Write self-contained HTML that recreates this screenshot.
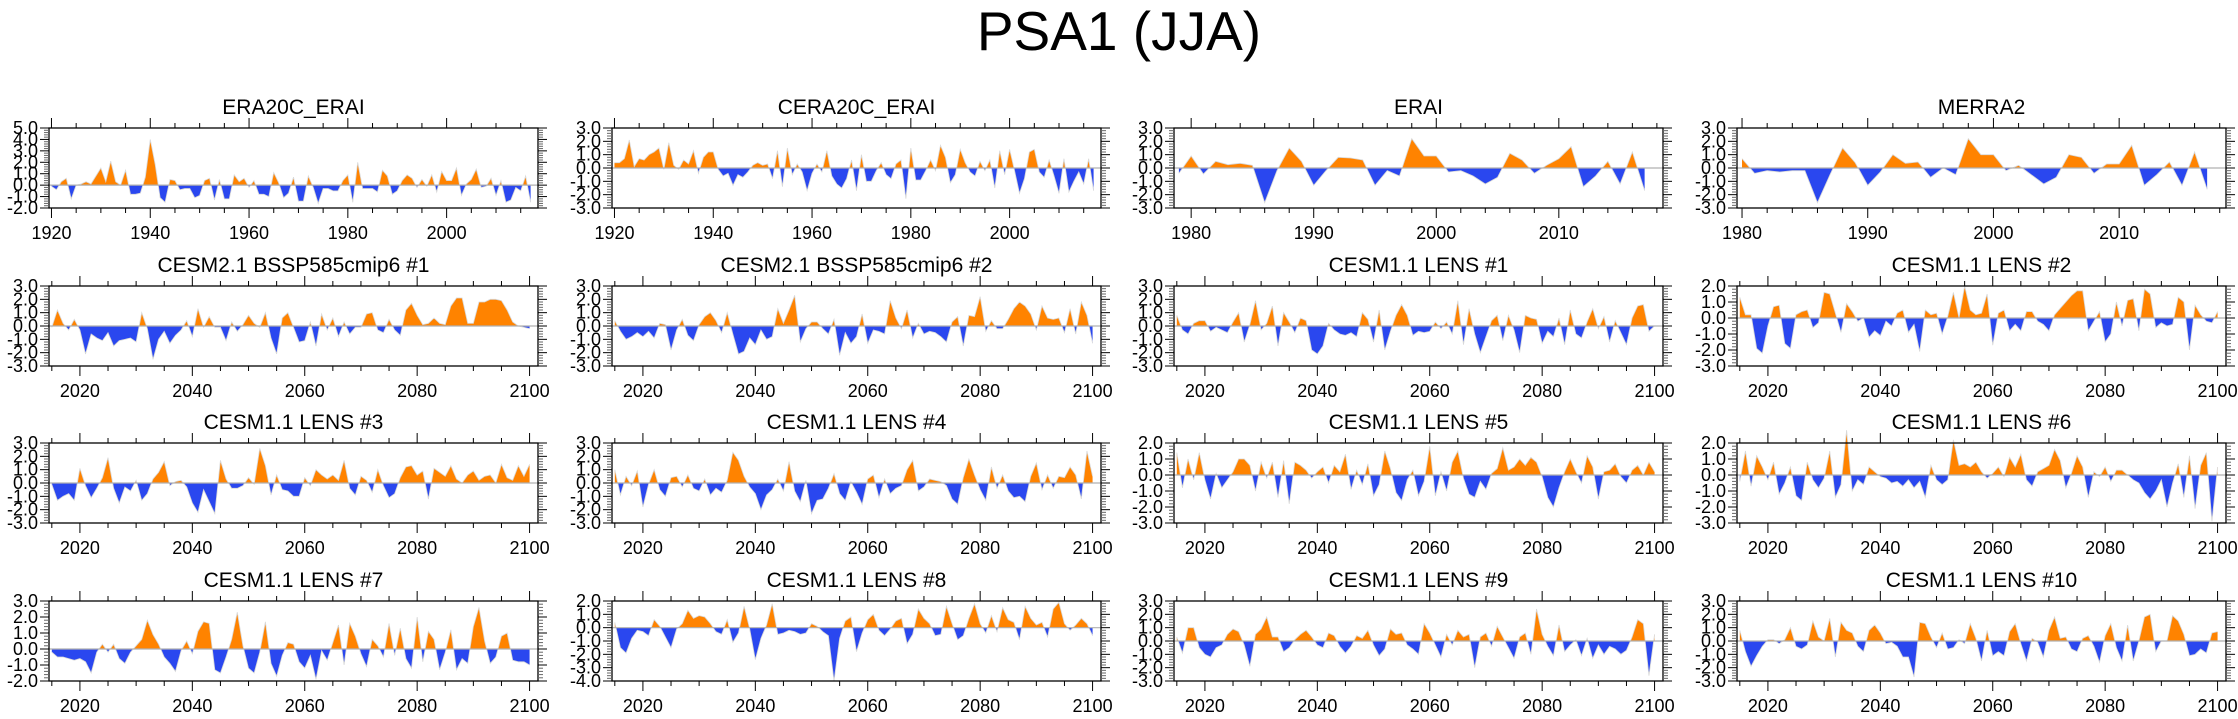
<!DOCTYPE html>
<html><head><meta charset="utf-8">
<style>
html,body{margin:0;padding:0;background:#fff;}
svg{display:block;font-family:"Liberation Sans",sans-serif;}
</style></head>
<body>
<svg id="fig" width="2238" height="719" viewBox="0 0 2238 719" xmlns="http://www.w3.org/2000/svg">
<text x="1119" y="50" font-size="55" text-anchor="middle">PSA1 (JJA)</text>
</svg>
<script>
const panelTitles = ["ERA20C_ERAI","CERA20C_ERAI","ERAI","MERRA2",
"CESM2.1 BSSP585cmip6 #1","CESM2.1 BSSP585cmip6 #2","CESM1.1 LENS #1","CESM1.1 LENS #2",
"CESM1.1 LENS #3","CESM1.1 LENS #4","CESM1.1 LENS #5","CESM1.1 LENS #6",
"CESM1.1 LENS #7","CESM1.1 LENS #8","CESM1.1 LENS #9","CESM1.1 LENS #10"];
const startYears = [1920,1920,1979,1980,2015,2015,2015,2015,2015,2015,2015,2015,2015,2015,2015,2015];
const xRanges = [[1919.5,2018.5],[1919.5,2018.5],[1978.6,2018.5],[1979.6,2018.5]];
const xTickSets = [[1920,1940,1960,1980,2000],[1920,1940,1960,1980,2000],[1980,1990,2000,2010],[1980,1990,2000,2010]];
const cesmTicks = [2020,2040,2060,2080,2100];
const yRanges = [[-2,5],[-3,3],[-3,3],[-3,3],[-3,3],[-3,3],[-3,3],[-3,2],[-3,3],[-3,3],[-3,2],[-3,2],[-2,3],[-4,2],[-3,3],[-3,3]];

const sERA20C = [-0.1,-0.4,0.3,0.6,-1.2,0,0.1,0.3,0.1,0.8,1.5,0.3,2.1,0.3,0,1.3,-0.8,-0.8,-0.7,0.7,4.0,1.8,-1.1,-1.5,0.5,0.4,-0.4,-0.3,-0.3,-1.1,-0.9,0.4,0.6,-1.3,0.5,-1.2,-1.2,0.9,0.3,0.6,-0.2,0.4,-0.8,-0.8,-1.0,1.1,0.2,-1.1,-0.7,0.7,-1.4,-1.4,0.8,-0.2,-1.6,-0.3,-0.3,-0.5,-0.5,0.4,0.9,-1.5,2.0,-0.3,-0.3,-0.3,-0.6,1.3,0.8,-0.8,-0.5,0.4,0.9,0.6,-0.2,0.5,-0.1,0.9,-0.6,1.2,0.4,0.4,1.5,-0.9,0.1,0.5,1.4,-0.2,-0.1,0.6,-0.9,0.4,-1.5,-1.3,-0.2,-0.5,0.8,-1.5];
const sCERA20C = [0.4,0.4,0.7,2.1,0.1,0.7,0.6,1.0,1.2,1.5,-0.1,1.9,0.2,-0.1,0.6,0.3,1.3,-0.4,0.8,1.2,1.2,-0.1,-0.6,-0.4,-1.3,-0.5,-0.7,-0.3,0.2,0.4,0.2,0.3,-0.8,1.3,-1.4,1.5,-0.5,0.3,-0.3,-1.7,-0.4,0.3,-0.3,1.3,-0.6,-1.2,-1.5,-0.8,0.6,-1.7,1.0,-1.0,-1.0,-0.2,0.4,-0.5,-0.8,0.3,0.6,-2.3,1.5,-0.9,-0.9,-0.2,0.6,-0.2,1.7,0.8,-1.1,-0.5,1.4,0.4,-0.3,-0.6,0.5,-0.2,0.6,-1.5,1.3,-0.5,1.4,-0.2,-1.9,-0.8,1.2,1.4,-0.3,-0.7,0.6,-0.6,-1.9,0.7,-1.8,-1.0,-0.3,-1.2,0.7,-1.7];
const sERAI = [-0.4,0.9,-0.45,0.5,0.25,0.35,0.2,-2.6,-0.2,1.5,0.5,-1.3,-0.2,0.8,0.75,0.6,-1.3,-0.2,-0.6,2.2,0.9,0.9,-0.3,-0.2,-0.6,-1.2,-0.7,1.1,0.6,-0.4,0.2,0.7,1.6,-1.4,-0.6,0.5,-1.2,1.2,-1.7];
const sMERRA2 = [0.7,-0.4,-0.2,-0.3,-0.2,-0.2,-2.6,-0.5,1.5,0.4,-1.3,-0.3,1.0,0.35,0.45,-0.7,0,-0.5,2.2,1.0,1.0,-0.2,0.2,-0.5,-1.2,-0.7,1.0,0.8,-0.4,0.3,0.3,1.7,-1.3,-0.5,0.45,-1.3,1.2,-1.6];
const sCESM2a = [-0.1,1.2,0.2,-0.3,0.5,-0.3,-2.1,-0.6,-0.9,-1.1,-0.5,-1.5,-1.1,-1.0,-0.9,-1.2,1.0,-0.2,-2.5,-1.0,-0.4,-1.3,-0.7,-0.3,0.4,-0.8,1.3,-0.1,0.7,-0.1,-0.1,-1.1,0.3,-0.4,0.1,0.8,0.2,-0.1,1.0,-0.9,-2.1,0.6,1.0,-0.1,-1.2,-1.1,0.3,-1.5,0.9,-0.3,0.6,-0.8,0.3,-0.6,-0.1,-0.1,0.9,1.0,-0.3,-0.5,0.5,-0.3,-0.7,1.2,1.7,0.8,0.1,0.2,0.6,0.2,0.1,1.5,2.1,2.1,0.2,0.2,1.8,1.8,2.0,2.0,1.9,1.2,0.3,0.0,-0.1,-0.2];
const sCESM2b = [0.4,-0.4,-1.0,-0.8,-0.5,-0.8,-0.4,-0.9,0.2,0.1,-1.8,-0.3,0.5,-0.7,-1.1,0.1,0.7,1.0,0.4,-0.5,1.0,-0.6,-2.1,-1.9,-0.9,-1.4,-0.3,-1.0,-0.8,1.3,0.2,1.2,2.3,-1.2,-0.2,0.3,0.3,-0.2,-0.6,0.5,-2.2,-0.5,-1.3,-0.8,0.9,-1.3,-0.3,-0.4,-0.6,1.9,0.6,-0.2,1.2,-0.9,0.2,-0.6,-0.4,-0.5,-0.8,-1.2,0.3,0.7,-1.5,0.8,0.7,2.2,-0.4,0.4,-0.2,-0.2,0.5,1.3,1.8,1.5,0.9,-0.3,1.5,0.6,0.5,0.6,-0.5,1.3,-0.6,1.8,0.8,-1.3];
const sLENS1 = [0.8,-0.3,-0.6,0.2,0.4,0.4,-0.4,-0.1,-0.3,-0.5,0.3,1.0,-1.2,0.1,1.9,-0.3,0.2,1.5,-1.5,1.0,0.3,-0.5,0.6,0.4,-1.8,-2.1,-1.5,0.2,-0.3,-0.6,-0.7,-0.5,-0.8,1.0,0.5,-1.2,1.2,-1.8,-0.4,0.8,1.6,0.8,-0.7,-0.4,-0.5,-0.4,0.3,-0.2,0.3,-0.6,1.9,-1.4,1.3,-0.6,-2.0,-0.8,0.4,0.8,-1.1,0.8,-0.3,-2.0,0.8,0.6,0.5,-1.3,-0.4,-0.8,0.6,-1.4,1.2,-0.6,-0.9,0.3,1.3,-0.2,0.7,-1.2,0.4,-0.5,-1.4,0.6,1.5,1.6,-0.4,0.0];
const sLENS2 = [1.3,0.2,0.2,-1.9,-2.2,-0.5,0.7,0.8,-1.6,-1.9,0.2,0.4,0.5,-0.6,-0.3,1.6,1.5,0.3,-0.9,0.9,0.4,-0.2,0.0,-1.2,-0.8,-1.1,-0.2,-0.5,0.3,0.5,-0.9,-0.4,-2.1,0.5,0.2,0.3,-1.0,0.1,1.6,0.0,2.0,0.5,0.2,0.3,1.5,-1.7,0.3,0.5,-0.8,-0.4,-0.8,0.4,0.4,-0.2,-0.4,-0.8,0.2,0.6,1.0,1.4,1.7,1.7,-0.8,-0.2,0.4,-1.5,-1.0,1.0,-0.5,1.1,1.2,-0.8,1.8,1.5,-0.6,-0.3,-0.5,-0.4,1.3,1.0,-2.0,0.8,0.2,-0.2,-0.3,0.4];
const sLENS3 = [-0.1,-1.3,-1.0,-0.8,-1.3,1.1,-0.2,-1.1,-0.4,0.4,1.9,-0.4,-1.5,-0.3,-0.6,0.2,-1.3,-0.8,0.3,0.8,1.6,-0.2,0.1,0.2,-0.3,-1.5,-2.2,-0.5,-1.4,-2.3,1.7,0.3,-0.4,-0.4,-0.2,0.4,-0.1,2.6,1.3,-0.9,0.6,-0.5,-0.6,-1.0,-1.0,0.4,-0.2,1.0,0.6,0.3,0.6,0.2,1.7,-0.4,-0.9,0.5,0.2,-0.7,1.0,-0.2,-1.1,-0.8,0.4,1.2,1.3,0.6,0.9,-1.2,1.1,0.8,0.5,1.3,0.3,0.0,0.6,0.9,0.2,0.5,0.6,0.0,1.4,0.4,0.2,1.3,0.5,1.4];
const sLENS4 = [1.0,-0.9,0.5,-0.2,0.9,-1.8,-0.1,1.0,-0.5,-1.0,0.4,0.5,-0.3,0.6,-0.4,-0.6,0.3,-0.9,-0.4,-0.7,0.2,2.3,1.7,0.5,-0.3,-0.8,-2.0,-0.9,-0.5,0.3,-0.6,1.6,-0.6,-1.4,0.2,-2.3,-1.3,-1.2,-0.4,0.7,-0.8,-1.3,0.1,-0.7,-1.6,0.3,0.6,-1.1,0.3,-0.8,-0.4,-0.2,1.0,1.7,-0.6,-0.3,0.3,0.2,0.1,-0.2,-1.2,-1.6,0.4,1.8,0.6,-0.5,-1.3,1.2,-0.4,0.6,-0.6,-1.1,-1.0,-1.4,0.5,1.5,-0.5,0.6,-0.4,0.5,0.4,1.2,0.6,-1.2,2.4,0.5];
const sLENS5 = [1.4,-0.8,1.0,-0.3,1.4,-0.3,-1.5,0.1,-0.8,-0.3,0.2,1.0,1.0,0.6,-1.0,0.8,-0.2,0.8,-1.4,0.9,-1.8,0.8,0.6,0.3,-0.2,0.2,0.5,-0.5,0.6,0.2,1.3,-0.9,0.3,-0.6,0.7,-1.3,-0.6,1.5,0.4,-1.1,-1.6,-0.3,0.3,-1.3,-0.4,1.8,-1.3,0.2,-1.0,0.8,1.5,-0.2,-1.2,-1.4,-0.4,-0.9,0.1,0.4,1.7,0.3,0.5,1.0,0.6,1.1,0.8,-0.1,-1.4,-2.0,-0.8,0.2,1.0,0.2,-0.5,1.2,0.5,-1.5,0.2,0.3,0.7,-0.1,-0.5,0.3,0.6,0.0,0.8,0.2];
const sLENS6 = [-0.4,1.5,-0.7,1.2,0.5,-0.3,0.8,-1.2,-0.5,0.5,-1.3,-1.6,0.8,-0.3,-0.8,-0.2,1.5,-1.4,-0.6,2.8,-1.0,-0.3,-0.6,0.5,0.2,-0.1,-0.2,-0.5,-0.4,-0.7,-0.3,-0.8,-0.4,-1.4,0.6,-0.3,-0.6,-0.3,2.2,0.6,0.7,0.5,0.8,0.2,-0.2,0.1,0.5,-0.1,1.1,0.5,1.3,-0.3,-0.7,0.2,0.4,0.6,1.6,0.9,-0.8,0.1,1.2,0.5,-1.4,0.2,-0.1,0.5,-0.4,0.3,0.3,0.0,-0.3,-0.5,-1.1,-1.5,-1.0,-0.3,-2.0,-0.5,0.7,-1.4,1.2,-2.1,0.6,1.4,-2.9,0.5];
const sLENS7 = [-0.2,-0.5,-0.5,-0.6,-0.7,-0.6,-0.8,-1.5,-0.2,0.3,-0.2,0.3,-0.6,-0.9,-0.2,0.2,0.6,1.8,0.9,0.3,-0.5,-0.9,-1.4,-0.1,0.5,-0.3,1.1,1.7,1.6,-1.3,-1.5,-0.5,0.6,2.3,0.2,-1.2,-1.5,-0.2,1.7,-0.9,-1.7,-0.4,0.4,0.3,-0.8,-1.2,-0.4,-1.9,-0.1,-0.7,0.4,1.5,-1.0,1.6,0.8,-0.3,-1.1,0.6,0.2,-0.5,1.6,-0.4,1.3,-0.6,-1.2,2.0,-0.8,1.1,0.6,-1.3,-0.2,1.2,-1.3,-0.6,-0.9,1.4,2.6,0.5,-0.9,-0.5,0.8,1.0,-0.7,-0.8,-0.8,-1.0];
const sLENS8 = [0.4,-1.5,-1.9,-0.8,-0.2,-0.3,-0.6,0.6,0.1,-0.7,-1.5,-0.1,0.3,1.3,0.7,0.9,0.8,0.3,-0.3,-0.5,0.6,-1.1,-0.4,1.6,-0.1,-2.4,-0.8,0.2,1.8,-0.5,-0.4,-0.2,-0.3,-0.5,-0.4,0.3,0.1,-0.3,-0.6,-4.0,-0.8,0.5,0.8,-1.8,-0.4,0.6,1.0,-0.2,-0.6,-0.1,0.5,0.7,-1.2,-0.5,1.4,0.7,0.3,-0.6,-0.5,1.6,0.3,-0.9,-0.6,0.7,1.8,0.3,-0.4,0.9,-0.3,1.5,0.6,0.4,-0.9,1.6,0.7,0.2,0.4,-0.7,1.4,1.9,0.3,-0.2,0.2,0.7,0.3,-0.6];
const sLENS9 = [0.3,-0.9,1.0,1.0,-0.5,-1.0,-1.2,-0.5,-0.3,0.5,0.9,0.7,-0.3,-1.9,0.5,0.9,1.8,0.3,0.3,-0.8,-0.5,0.1,0.5,0.8,0.3,-0.3,-0.5,0.6,0.4,-0.4,-0.9,-0.4,0.4,0.2,0.8,-0.3,-1.1,-0.6,0.9,0.5,0.6,-0.3,-0.6,-1.0,1.3,0.6,-0.3,-1.2,0.5,-0.3,0.8,0.3,0.5,-2.0,0.3,0.6,-0.4,1.1,0.3,-0.5,-1.3,0.3,0.6,-1.0,2.4,0.5,-0.4,-1.1,1.2,-0.8,-0.3,0.1,-1.1,0.2,-1.3,-0.3,-1.0,-0.4,-0.6,-1.0,-0.7,0.3,1.6,1.3,-2.6,0.5];
const sLENS10 = [0.8,-0.8,-1.9,-1.1,-0.4,0.1,0.1,-0.2,0.1,1.0,-0.4,-0.6,-0.3,1.5,0.3,0.0,1.7,-1.2,1.4,0.8,0.6,-0.4,-0.8,0.8,1.2,0.6,-0.2,-0.1,-0.4,-1.2,-1.2,-2.7,1.4,1.3,0.3,-0.5,0.6,-0.6,-0.5,0.1,-0.2,1.3,0.2,-1.5,0.8,-1.1,-0.8,-1.1,0.7,1.3,-0.2,-1.5,0.2,-0.1,-1.2,0.8,1.8,0.2,0.3,-0.6,-0.8,0.2,0.4,-0.4,-1.6,0.4,1.3,-0.5,-1.5,1.2,-1.5,0.0,1.8,2.0,-0.8,0.0,0.0,1.9,1.5,0.5,-1.1,-1.0,-0.6,-0.9,0.6,0.7];
const seriesList = [sERA20C,sCERA20C,sERAI,sMERRA2,sCESM2a,sCESM2b,sLENS1,sLENS2,sLENS3,sLENS4,sLENS5,sLENS6,sLENS7,sLENS8,sLENS9,sLENS10];

const NS = "http://www.w3.org/2000/svg";
const svg = document.getElementById('fig');
function mk(tag, attrs, parent){const e=document.createElementNS(NS,tag);for(const k in attrs)e.setAttribute(k,attrs[k]);(parent||svg).appendChild(e);return e;}
const colLeft=[49,612,1174,1737], rowTop=[128,286,443,601], W=489, H=80;

for(let p=0;p<16;p++){
  const col=p%4,row=Math.floor(p/4);
  const L=colLeft[col],T=rowTop[row];
  const xr = p<4 ? xRanges[p] : [2014.5,2101.5];
  const yr = yRanges[p];
  const xs = y => L + (y-xr[0])/(xr[1]-xr[0])*W;
  const ys = v => T + (yr[1]-v)/(yr[1]-yr[0])*H;
  const g = mk('g',{});
  
  
  const t = mk('text',{x:L+W/2,y:T-14,'font-size':21,'text-anchor':'middle'},g);
  t.textContent = panelTitles[p];
  
  
  const data = seriesList[p], y0 = startYears[p];
  const pts=[];
  for(let i=0;i<data.length;i++){
    if(i>0){const a=data[i-1],b=data[i];if((a>0&&b<0)||(a<0&&b>0)){const f=a/(a-b);pts.push([y0+i-1+f,0]);}}
    pts.push([y0+i,data[i]]);
  }
  const x1=xs(pts[0][0]),x2=xs(pts[pts.length-1][0]),zy=ys(0);
  let pos='M'+x1+','+zy, neg='M'+x1+','+zy;
  pts.forEach(q=>{pos+=' L'+xs(q[0]).toFixed(2)+','+ys(Math.max(q[1],0)).toFixed(2);neg+=' L'+xs(q[0]).toFixed(2)+','+ys(Math.min(q[1],0)).toFixed(2);});
  pos+=' L'+x2+','+zy+'Z'; neg+=' L'+x2+','+zy+'Z';
  const pp=mk('path',{d:pos,fill:'#ff8300'},g);
  
  
  const np=mk('path',{d:neg,fill:'#2a47ef'},g);
  
  
  let line='';pts.forEach((q,i)=>{line+=(i?' L':'M')+xs(q[0]).toFixed(2)+','+ys(q[1]).toFixed(2);});
  mk('path',{d:line,fill:'none',stroke:'#d8d8d8','stroke-width':0.8},g);
  const zl=mk('line',{x1:L,x2:L+W,y1:zy,y2:zy,stroke:'#b0b0b0','stroke-width':1.2},g);
  
  
  const box=mk('rect',{x:L,y:T,width:W,height:H,fill:'none',stroke:'#000','stroke-width':1.3},g);
  
  
  for(let v=yr[0];v<=yr[1]+1e-6;v+=0.2){
    const vv=Math.round(v*10)/10, yy=ys(vv), major=Math.abs(vv-Math.round(vv))<1e-6;
    const len=major?9:5;
    mk('line',{x1:L-len,x2:L,y1:yy,y2:yy,stroke:major?'#000':'#666','stroke-width':1},g);
    mk('line',{x1:L+W,x2:L+W+len,y1:yy,y2:yy,stroke:major?'#000':'#666','stroke-width':1},g);
    if(major){
      const lb=mk('text',{x:L-11,y:yy+6,'font-size':18,'text-anchor':'end'},g);
      lb.textContent=vv.toFixed(1);
      
      
    }
  }
  const majors = p<4 ? xTickSets[p] : cesmTicks;
  const minorStep = (p===2||p===3)?2:5;
  for(let yv=Math.ceil(xr[0]);yv<=xr[1];yv++){
    const isMaj = majors.indexOf(yv)>=0, isMin = (yv%minorStep===0);
    if(!isMaj&&!isMin) continue;
    const xx=xs(yv),len=isMaj?10:5;
    mk('line',{x1:xx,x2:xx,y1:T-len,y2:T,stroke:'#000','stroke-width':1},g);
    mk('line',{x1:xx,x2:xx,y1:T+H,y2:T+H+len,stroke:'#000','stroke-width':1},g);
    if(isMaj){
      const lb=mk('text',{x:xx,y:T+H+31,'font-size':18,'text-anchor':'middle'},g);
      lb.textContent=yv;
      
      
    }
  }
}
</script>
</body></html>
